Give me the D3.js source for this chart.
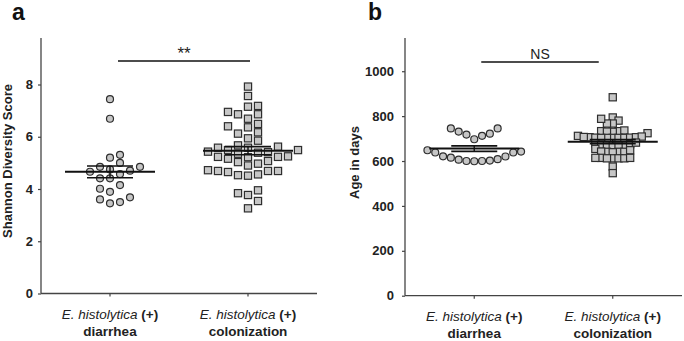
<!DOCTYPE html>
<html>
<head>
<meta charset="utf-8">
<script src="https://cdn.jsdelivr.net/npm/d3@7/dist/d3.min.js"></script>
<style>
  body { margin: 0; background: #fff; }
  svg { display: block; font-family: "Liberation Sans", Arial, sans-serif; }
</style>
</head>
<body>
<svg id="chart" width="684" height="341"></svg>
<script>
"use strict";

// group names shown under the x axis
const groups = ["diarrhea", "colonization"];

// Shannon diversity score, panel a
const shannonDiarrhea = [7.44, 6.69, 5.20, 5.31, 5.00, 4.85, 4.85, 4.57, 4.70, 4.66,
  4.75, 4.41, 4.41, 4.15, 4.01, 3.89, 3.60, 3.45, 3.50, 3.68];
const shannonColonization = [7.92, 7.56, 7.15, 7.18, 6.86, 6.86, 6.95, 6.69, 6.49, 6.36,
  6.40, 6.17, 6.12, 5.94, 5.85, 5.62, 5.58, 5.58, 5.67, 5.49, 5.41, 5.35, 5.39, 5.43,
  5.49, 5.23, 5.23, 5.25, 5.22, 5.16, 5.07, 4.97, 4.90, 5.03, 4.69, 4.69, 4.56, 4.51,
  4.53, 4.65, 4.69, 4.72, 3.84, 3.77, 3.95, 3.54, 3.26];

// age in days, panel b
const ageDiarrhea = [731, 718, 745, 745, 697, 712, 722, 638, 621, 615, 606, 600, 599,
  600, 602, 608, 620, 638, 642, 648];
const ageColonization = [884, 794, 780, 767, 767, 788, 733, 730, 736, 733, 724, 731,
  712, 706, 704, 703, 703, 703, 703, 703, 704, 706, 707, 709,
  679, 673, 670, 670, 654, 669, 669, 675, 682,
  641, 641, 639, 641, 642, 648, 614, 612, 612, 612, 612, 614, 614, 575, 546];

const shannonTicks = [0, 2, 4, 6, 8];
const ageTicks = [0, 200, 400, 600, 800, 1000];

const panels = [
  {
    letter: "a", letterX: 12, left: 41, right: 317, top: 38, bottom: 293.5,
    yMax: 9.78, ticks: shannonTicks, tickGap: 8, yTitle: "Shannon Diversity Score",
    yTitleX: 12, yTitleY: 161, series: [shannonDiarrhea, shannonColonization],
    sigValue: 8.9, sigText: "**", sigSize: 17, sigLift: 1.5, sigFrom: 8, sigTo: 2,
    swarm: [{ w: 10, h: 8 }, { w: 10, h: 7.5 }]
  },
  {
    letter: "b", letterX: 368, left: 405, right: 682, top: 38, bottom: 295.7,
    yMax: 1148, ticks: ageTicks, tickGap: 11, yTitle: "Age in days",
    yTitleX: 358.5, yTitleY: 162.5, series: [ageDiarrhea, ageColonization],
    sigValue: 1041, sigText: "NS", sigSize: 14, sigLift: 2.7, sigFrom: 7, sigTo: -14,
    swarm: [{ w: 7.8, h: 11 }, { w: 5.8, h: 5 }]
  }
];

const svg = d3.select("#chart");
const axisColor = "#444";
const markFill = "#c6c6c6";
const markStroke = "#2e2e2e";

// row-style swarm: points closer than h vertically must be w apart horizontally
function swarm(values, y, w, h) {
  const order = d3.range(values.length).sort((a, b) => values[a] - values[b]);
  const placed = [];
  const xs = new Array(values.length);
  let side = 1;
  order.forEach((i) => {
    const yi = y(values[i]);
    const near = placed.filter((p) => Math.abs(p.y - yi) < h);
    const free = (c) => near.every((p) => Math.abs(p.x - c) >= w - 1e-6);
    const candidates = [0];
    near.forEach((p) => candidates.push(p.x - w, p.x + w));
    candidates.sort((a, b) => Math.abs(a) - Math.abs(b) || side * (b - a));
    const x = candidates.find(free);
    if (x !== 0) side = -side;
    xs[i] = x;
    placed.push({ x, y: yi });
  });
  return xs;
}

panels.forEach((panel) => {
  const g = svg.append("g");

  const y = d3.scaleLinear().domain([0, panel.yMax]).range([panel.bottom, panel.top]);
  const x = d3.scaleBand().domain(groups).range([panel.left, panel.right]);
  const cx = (name) => x(name) + x.bandwidth() / 2;

  // y axis
  const yAxis = g.append("g")
    .attr("transform", `translate(${panel.left},0)`)
    .call(d3.axisLeft(y).tickValues(panel.ticks).tickSize(3).tickPadding(panel.tickGap - 3).tickFormat(d3.format("d")));
  yAxis.select(".domain").attr("stroke", axisColor).attr("stroke-width", 1.3)
    .attr("d", `M0,${panel.top}V${panel.bottom}`);
  yAxis.selectAll(".tick line").attr("stroke", axisColor).attr("stroke-width", 1.2);
  yAxis.selectAll(".tick text")
    .attr("font-family", "Liberation Sans, Arial, sans-serif")
    .attr("font-size", 13)
    .attr("font-weight", "bold")
    .attr("fill", "#222");

  // x axis
  const xAxis = g.append("g")
    .attr("transform", `translate(0,${panel.bottom})`)
    .call(d3.axisBottom(x).tickSize(3).tickFormat(""));
  xAxis.select(".domain").attr("stroke", axisColor).attr("stroke-width", 1.3)
    .attr("d", `M${panel.left},0H${panel.right}`);
  xAxis.selectAll(".tick line").attr("stroke", axisColor).attr("stroke-width", 1.2);

  // x labels
  groups.forEach((name) => {
    const label = g.append("text")
      .attr("x", cx(name))
      .attr("y", panel.bottom + 25.5)
      .attr("text-anchor", "middle")
      .attr("font-size", 13.5)
      .attr("fill", "#222");
    label.append("tspan").attr("font-style", "italic").text("E. histolytica ");
    label.append("tspan").attr("font-weight", "bold").text("(+)");
    g.append("text")
      .attr("x", cx(name))
      .attr("y", panel.bottom + 42)
      .attr("text-anchor", "middle")
      .attr("font-size", 13.5)
      .attr("font-weight", "bold")
      .attr("fill", "#222")
      .text(name);
  });

  // y title
  g.append("text")
    .attr("transform", `translate(${panel.yTitleX},${panel.yTitleY}) rotate(-90)`)
    .attr("text-anchor", "middle")
    .attr("font-size", 13)
    .attr("font-weight", "bold")
    .attr("fill", "#222")
    .text(panel.yTitle);

  // panel letter
  g.append("text")
    .attr("x", panel.letterX)
    .attr("y", 20)
    .attr("font-size", 23)
    .attr("font-weight", "bold")
    .attr("fill", "#111")
    .text(panel.letter);

  // points
  panel.series.forEach((values, gi) => {
    const name = groups[gi];
    const offsets = swarm(values, y, panel.swarm[gi].w, panel.swarm[gi].h);
    const pts = values.map((v, i) => ({ x: cx(name) + offsets[i], y: y(v) }));
    if (gi === 0) {
      g.selectAll(null).data(pts).join("circle")
        .attr("cx", (d) => d.x)
        .attr("cy", (d) => d.y)
        .attr("r", 3.5)
        .attr("fill", markFill)
        .attr("stroke", markStroke)
        .attr("stroke-width", 1.2);
    } else {
      g.selectAll(null).data(pts).join("rect")
        .attr("x", (d) => d.x - 3.6)
        .attr("y", (d) => d.y - 3.6)
        .attr("width", 7.2)
        .attr("height", 7.2)
        .attr("fill", markFill)
        .attr("stroke", markStroke)
        .attr("stroke-width", 1.2);
    }

    // mean and SEM
    const mean = d3.mean(values);
    const sem = d3.deviation(values) / Math.sqrt(values.length);
    const c = cx(name);
    g.append("line")
      .attr("x1", c - 45).attr("x2", c + 45)
      .attr("y1", y(mean)).attr("y2", y(mean))
      .attr("stroke", "#111").attr("stroke-width", 2);
    [mean - sem, mean + sem].forEach((v) => {
      g.append("line")
        .attr("x1", c - 23).attr("x2", c + 23)
        .attr("y1", y(v)).attr("y2", y(v))
        .attr("stroke", "#111").attr("stroke-width", 1.6);
    });
    g.append("line")
      .attr("x1", c).attr("x2", c)
      .attr("y1", y(mean - sem)).attr("y2", y(mean + sem))
      .attr("stroke", "#111").attr("stroke-width", 1.4);
  });

  // significance bar
  const x1 = cx(groups[0]) + panel.sigFrom;
  const x2 = cx(groups[1]) + panel.sigTo;
  g.append("line")
    .attr("x1", x1).attr("x2", x2)
    .attr("y1", y(panel.sigValue)).attr("y2", y(panel.sigValue))
    .attr("stroke", "#111").attr("stroke-width", 1.6);
  g.append("text")
    .attr("x", (x1 + x2) / 2)
    .attr("y", y(panel.sigValue) - panel.sigLift)
    .attr("text-anchor", "middle")
    .attr("font-size", panel.sigSize)
    .attr("fill", "#222")
    .text(panel.sigText);
});
</script>
</body>
</html>
